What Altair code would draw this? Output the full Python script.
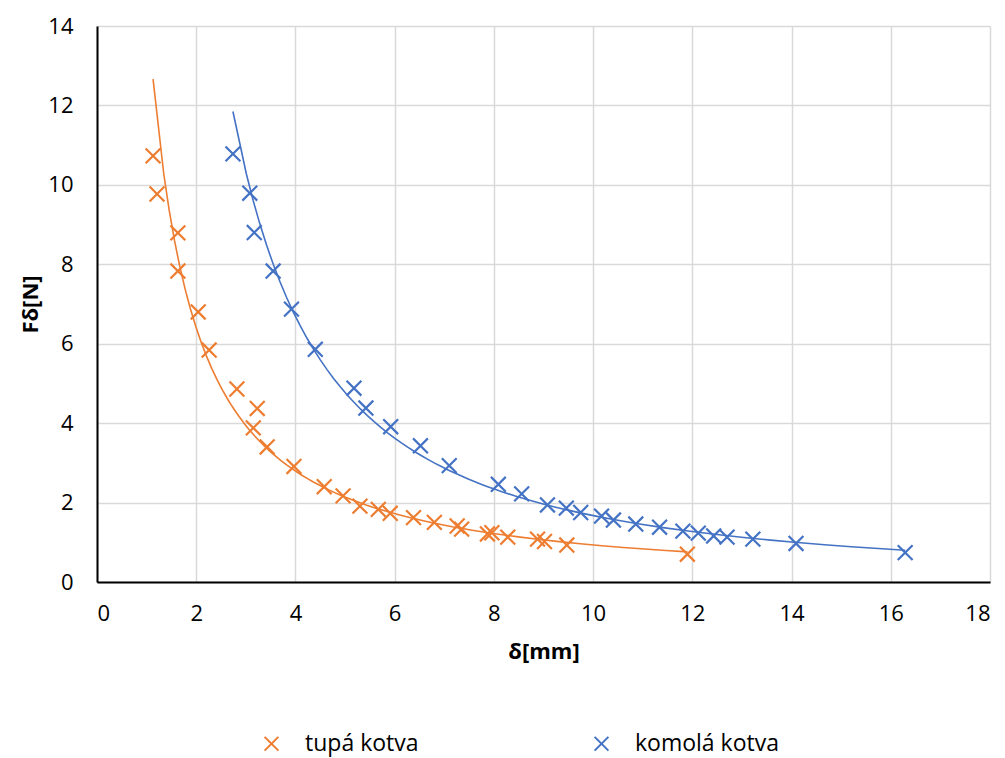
import altair as alt
import pandas as pd

series_names = ["tupá kotva", "komolá kotva"]
colors = ["#ED7D31", "#4472C4"]

x_tupa = [1.13, 1.21, 1.63, 1.63, 2.04, 2.26, 2.82, 3.23, 3.15, 3.43, 3.97, 4.58, 4.96, 5.30,
          5.67, 5.91, 6.38, 6.80, 7.26, 7.35, 7.87, 7.96, 8.28, 8.88, 9.02, 9.47, 11.90]
y_tupa = [10.73, 9.77, 8.79, 7.83, 6.80, 5.84, 4.86, 4.37, 3.88, 3.40, 2.91, 2.40, 2.17, 1.91,
          1.83, 1.73, 1.62, 1.50, 1.41, 1.33, 1.21, 1.24, 1.13, 1.08, 1.02, 0.93, 0.70]

x_kom = [2.74, 3.08, 3.17, 3.55, 3.92, 4.40, 5.18, 5.42, 5.92, 6.52, 7.10, 8.09, 8.56, 9.08,
         9.46, 9.75, 10.17, 10.41, 10.86, 11.34, 11.81, 12.12, 12.43, 12.70, 13.22, 14.09, 16.29]
y_kom = [10.78, 9.79, 8.80, 7.83, 6.87, 5.86, 4.88, 4.38, 3.91, 3.43, 2.93, 2.46, 2.22, 1.94,
         1.86, 1.75, 1.66, 1.56, 1.46, 1.38, 1.28, 1.23, 1.16, 1.13, 1.08, 0.97, 0.74]

df = pd.concat([
    pd.DataFrame({"x": x_tupa, "y": y_tupa, "series": series_names[0]}),
    pd.DataFrame({"x": x_kom, "y": y_kom, "series": series_names[1]}),
], ignore_index=True)

FONT = "Open Sans"
FS = 22
XPATH = "M-1,-1L1,1M1,-1L-1,1"

color = alt.Color(
    "series:N",
    scale=alt.Scale(domain=series_names, range=colors),
    legend=alt.Legend(
        title=None,
        orient="none",
        legendX=163,
        legendY=706,
        direction="horizontal",
        symbolType=XPATH,
        symbolSize=190,
        symbolStrokeWidth=2,
        symbolFillColor="transparent",
        labelFont=FONT,
        labelFontSize=23,
        labelColor="#000000",
        labelOffset=22,
        columnPadding=171,
        labelLimit=300,
    ),
)

xenc = alt.X(
    "x:Q",
    scale=alt.Scale(domain=[0, 18], nice=False, zero=False),
    axis=alt.Axis(title="δ[mm]", values=list(range(0, 19, 2)), grid=True),
)
yenc = alt.Y(
    "y:Q",
    scale=alt.Scale(domain=[0, 14], nice=False, zero=False),
    axis=alt.Axis(title="Fδ[N]", values=list(range(0, 15, 2)), grid=True),
)

points = alt.Chart(df).mark_point(
    shape=XPATH, filled=False, strokeWidth=2.2, size=220, opacity=1
).encode(x=xenc, y=yenc, color=color)

lines = alt.Chart(df).transform_regression(
    "x", "y", method="pow", groupby=["series"]
).mark_line(strokeWidth=1.6).encode(
    x="x:Q",
    y="y:Q",
    color=color,
)

chart = alt.layer(lines, points).properties(
    width=893,
    height=556,
    autosize=alt.AutoSizeParams(type="none"),
    padding={"left": 97, "top": 26, "right": 15, "bottom": 176},
    background="#FFFFFF",
).configure_view(
    stroke=None
).configure_axis(
    labelFont=FONT,
    labelFontSize=FS,
    labelColor="#000000",
    titleFont=FONT,
    titleFontSize=FS,
    titleFontWeight="bold",
    titleColor="#000000",
    gridColor="#D9D9D9",
    gridWidth=1.5,
    ticks=False,
    domain=True,
    domainColor="#000000",
    domainWidth=2,
).configure_axisX(
    labelPadding=21,
    titlePadding=17,
).configure_axisY(
    labelPadding=24,
    titlePadding=5,
)

chart.save("out.html", embed_options={"renderer": "svg", "actions": False})
